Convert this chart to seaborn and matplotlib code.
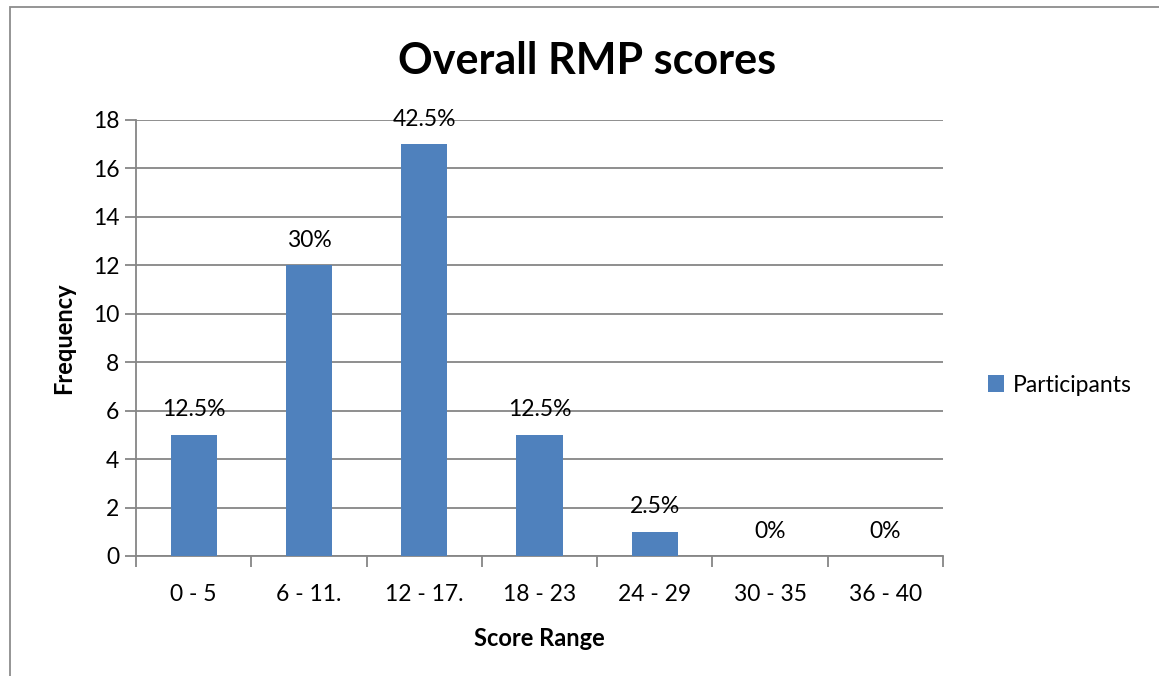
import matplotlib
matplotlib.use("Agg")
import matplotlib.pyplot as plt
import seaborn as sns
import pandas as pd
from matplotlib.patches import Rectangle

categories = ["0 - 5", "6 - 11.", "12 - 17.", "18 - 23", "24 - 29", "30 - 35", "36 - 40"]
frequency = [5, 12, 17, 5, 1, 0, 0]
pct_labels = ["12.5%", "30%", "42.5%", "12.5%", "2.5%", "0%", "0%"]
yticks = [0, 2, 4, 6, 8, 10, 12, 14, 16, 18]

sns.set_theme(style="white")
plt.rcParams["font.family"] = ["Lato", "DejaVu Sans"]
plt.rcParams["text.color"] = "black"
plt.rcParams["axes.labelcolor"] = "black"
plt.rcParams["xtick.color"] = "black"
plt.rcParams["ytick.color"] = "black"

df = pd.DataFrame({"Score Range": categories, "Frequency": frequency})

W, H = 1159, 676
fig = plt.figure(figsize=(W / 100, H / 100), dpi=100)
ax = fig.add_axes([136 / W, 1 - 556 / H, (943 - 136) / W, (556 - 120) / H])

bar_color = "#4F81BD"
grid_color = "#868686"
fs = 16.5

sns.barplot(data=df, x="Score Range", y="Frequency", color=bar_color, width=0.4,
            saturation=1, linewidth=0, ax=ax, label="Participants", zorder=3)

ax.set_ylim(0, 18)
ax.set_xlim(-0.5, len(categories) - 0.5)
ax.set_yticks(yticks)
ax.yaxis.grid(True, color=grid_color, linewidth=1.3, zorder=0)
ax.set_axisbelow(True)
for s in ["top", "right"]:
    ax.spines[s].set_visible(False)
for s in ["left", "bottom"]:
    ax.spines[s].set_color(grid_color)
    ax.spines[s].set_linewidth(1.3)

ax.tick_params(axis="y", length=8, width=1.3, color=grid_color, labelsize=fs, pad=4,
               left=True, labelcolor="black")
ax.set_xticks([i - 0.5 for i in range(len(categories) + 1)], minor=True)
ax.tick_params(axis="x", which="major", length=0, labelsize=fs, pad=20, labelcolor="black")
ax.tick_params(axis="x", which="minor", length=8, width=1.3, color=grid_color, bottom=True)
ax.set_yticklabels([str(v) for v in yticks])

for i, (v, lab) in enumerate(zip(frequency, pct_labels)):
    ax.annotate(lab, (i, v), xytext=(0, 18), textcoords="offset points",
                ha="center", va="center", fontsize=fs, color="black")

ax.set_xlabel("Score Range", fontsize=17, fontweight="bold", labelpad=16, color="black")
ax.set_ylabel("Frequency", fontsize=17, fontweight="bold", labelpad=13, color="black")

fig.text(587 / W, 1 - 61 / H, "Overall RMP scores", ha="center", va="center",
         fontsize=31, fontweight="bold", color="black")

leg = ax.legend(loc="center left", bbox_to_anchor=(967 / W, 1 - 385 / H),
                bbox_transform=fig.transFigure, frameon=False, fontsize=fs,
                handlelength=0.7, handleheight=0.7, handletextpad=0.4)

fig.patches.append(Rectangle((10 / W, -0.1), 1.2, 1 - 7 / H + 0.1, transform=fig.transFigure,
                             fill=False, edgecolor="#8c8c8c", linewidth=1.3))

fig.savefig("out.png", dpi=100)
